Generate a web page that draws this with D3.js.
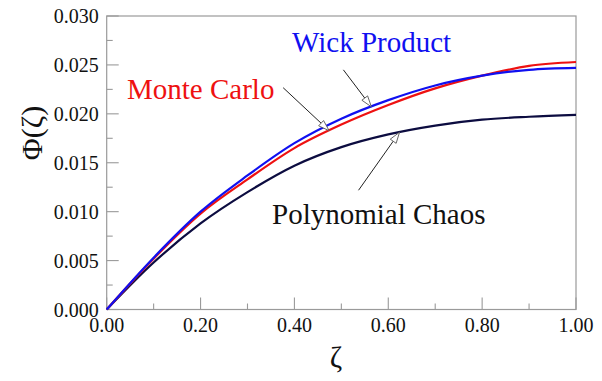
<!DOCTYPE html>
<html><head><meta charset="utf-8">
<script src="https://cdn.jsdelivr.net/npm/d3@7"></script>
<style>body{margin:0;background:#fff}svg{display:block}text{font-family:"Liberation Serif","Times New Roman",serif}</style>
</head><body><svg id="c" width="602" height="381"></svg>
<script>
const zeta = [0, 0.1, 0.2, 0.3, 0.4, 0.5, 0.6, 0.7, 0.8, 0.9, 1.0];
const wick = [0, 0.0053, 0.0100, 0.0137, 0.0170, 0.0195, 0.0214, 0.0229, 0.0239, 0.0245, 0.0247];
const monteCarlo = [0, 0.0052, 0.0098, 0.0133, 0.0165, 0.0189, 0.0209, 0.0226, 0.0239, 0.0249, 0.0253];
const polyChaos = [0, 0.0048, 0.0088, 0.0120, 0.0147, 0.0166, 0.0179, 0.0188, 0.0194, 0.0197, 0.0199];
const xTicks = [0, 0.2, 0.4, 0.6, 0.8, 1.0];
const yTicks = [0, 0.005, 0.010, 0.015, 0.020, 0.025, 0.030];
const seriesNames = ["Wick Product", "Monte Carlo", "Polynomial Chaos"];
const seriesColors = ["#1010f0", "#ee1111", "#0c0c40"];
const labelZ = [0.564, 0.474, 0.624];

const svg = d3.select("#c");
const m = {l: 106.7, r: 576, t: 16, b: 309.5};
const x = d3.scaleLinear().domain([0, 1]).range([m.l, m.r]);
const y = d3.scaleLinear().domain([0, 0.03]).range([m.b, m.t]);
const grey = "#9a9a9a";

// frame
svg.append("rect").attr("x", m.l).attr("y", m.t).attr("width", m.r - m.l).attr("height", m.b - m.t)
  .attr("fill", "none").attr("stroke", grey).attr("stroke-width", 1.2);

// ticks (inward)
const xMinor = d3.range(0.1, 1, 0.2);
const yMinor = d3.range(0.0025, 0.03, 0.005);
const tk = svg.append("g").attr("stroke", grey).attr("stroke-width", 1.1);
xTicks.forEach(v => tk.append("line").attr("x1", x(v)).attr("x2", x(v)).attr("y1", m.b).attr("y2", m.b - 12));
xMinor.forEach(v => tk.append("line").attr("x1", x(v)).attr("x2", x(v)).attr("y1", m.b).attr("y2", m.b - 6));
yTicks.forEach(v => tk.append("line").attr("y1", y(v)).attr("y2", y(v)).attr("x1", m.l).attr("x2", m.l + 12));
yMinor.forEach(v => tk.append("line").attr("y1", y(v)).attr("y2", y(v)).attr("x1", m.l).attr("x2", m.l + 6));

// tick labels
svg.append("g").selectAll("text").data(xTicks).join("text")
  .attr("x", d => x(d)).attr("y", m.b + 22).attr("text-anchor", "middle")
  .attr("font-size", 20).attr("fill", "#111").text(d => d3.format(".2f")(d));
svg.append("g").selectAll("text").data(yTicks).join("text")
  .attr("x", m.l - 8).attr("y", d => y(d)).attr("dy", "0.35em").attr("text-anchor", "end")
  .attr("font-size", 20).attr("fill", "#111").text(d => d3.format(".3f")(d));

// axis titles
svg.append("text").attr("transform", "translate(42,133) rotate(-90)").attr("text-anchor", "middle")
  .attr("font-size", 30).attr("fill", "#111").text("Φ(ζ)");
svg.append("text").attr("x", 336).attr("y", 367).attr("text-anchor", "middle")
  .attr("font-size", 30).attr("fill", "#111").text("ζ");

// curves
const data = [wick, monteCarlo, polyChaos];
const line = d3.line().x((d, i) => x(zeta[i])).y(d => y(d)).curve(d3.curveMonotoneX);
const order = [2, 1, 0];
order.forEach(k => {
  svg.append("path").attr("d", line(data[k])).attr("fill", "none")
    .attr("stroke", seriesColors[k]).attr("stroke-width", 2.2);
});

// annotations: arrow tip on the curve at labelZ, tail offset
function valAt(arr, z) {
  const i = Math.min(Math.floor(z * 10), 9);
  const t = (z - zeta[i]) / 0.1;
  return arr[i] + t * (arr[i + 1] - arr[i]);
}
const tails = [[-28, -37], [-46, -43], [-41, 58]];
const textPos = [[292, 52, "start"], [127, 99, "start"], [272, 224, "start"]];
data.forEach((arr, k) => {
  const tx = x(labelZ[k]), ty = y(valAt(arr, labelZ[k]));
  const sx = tx + tails[k][0], sy = ty + tails[k][1];
  const ang = Math.atan2(ty - sy, tx - sx);
  const L = 11, W = 3.6;
  const bx = tx - L * Math.cos(ang), by = ty - L * Math.sin(ang);
  svg.append("line").attr("x1", sx).attr("y1", sy).attr("x2", bx).attr("y2", by)
    .attr("stroke", "#222").attr("stroke-width", 1);
  const px = -Math.sin(ang) * W, py = Math.cos(ang) * W;
  svg.append("path").attr("d", `M${tx},${ty}L${bx + px},${by + py}L${bx - px},${by - py}Z`)
    .attr("fill", "#fff").attr("stroke", "#555").attr("stroke-width", 0.9);
  svg.append("text").attr("x", textPos[k][0]).attr("y", textPos[k][1]).attr("text-anchor", textPos[k][2])
    .attr("font-size", 29).attr("fill", k === 2 ? "#111" : seriesColors[k]).text(seriesNames[k]);
});
</script></body></html>
